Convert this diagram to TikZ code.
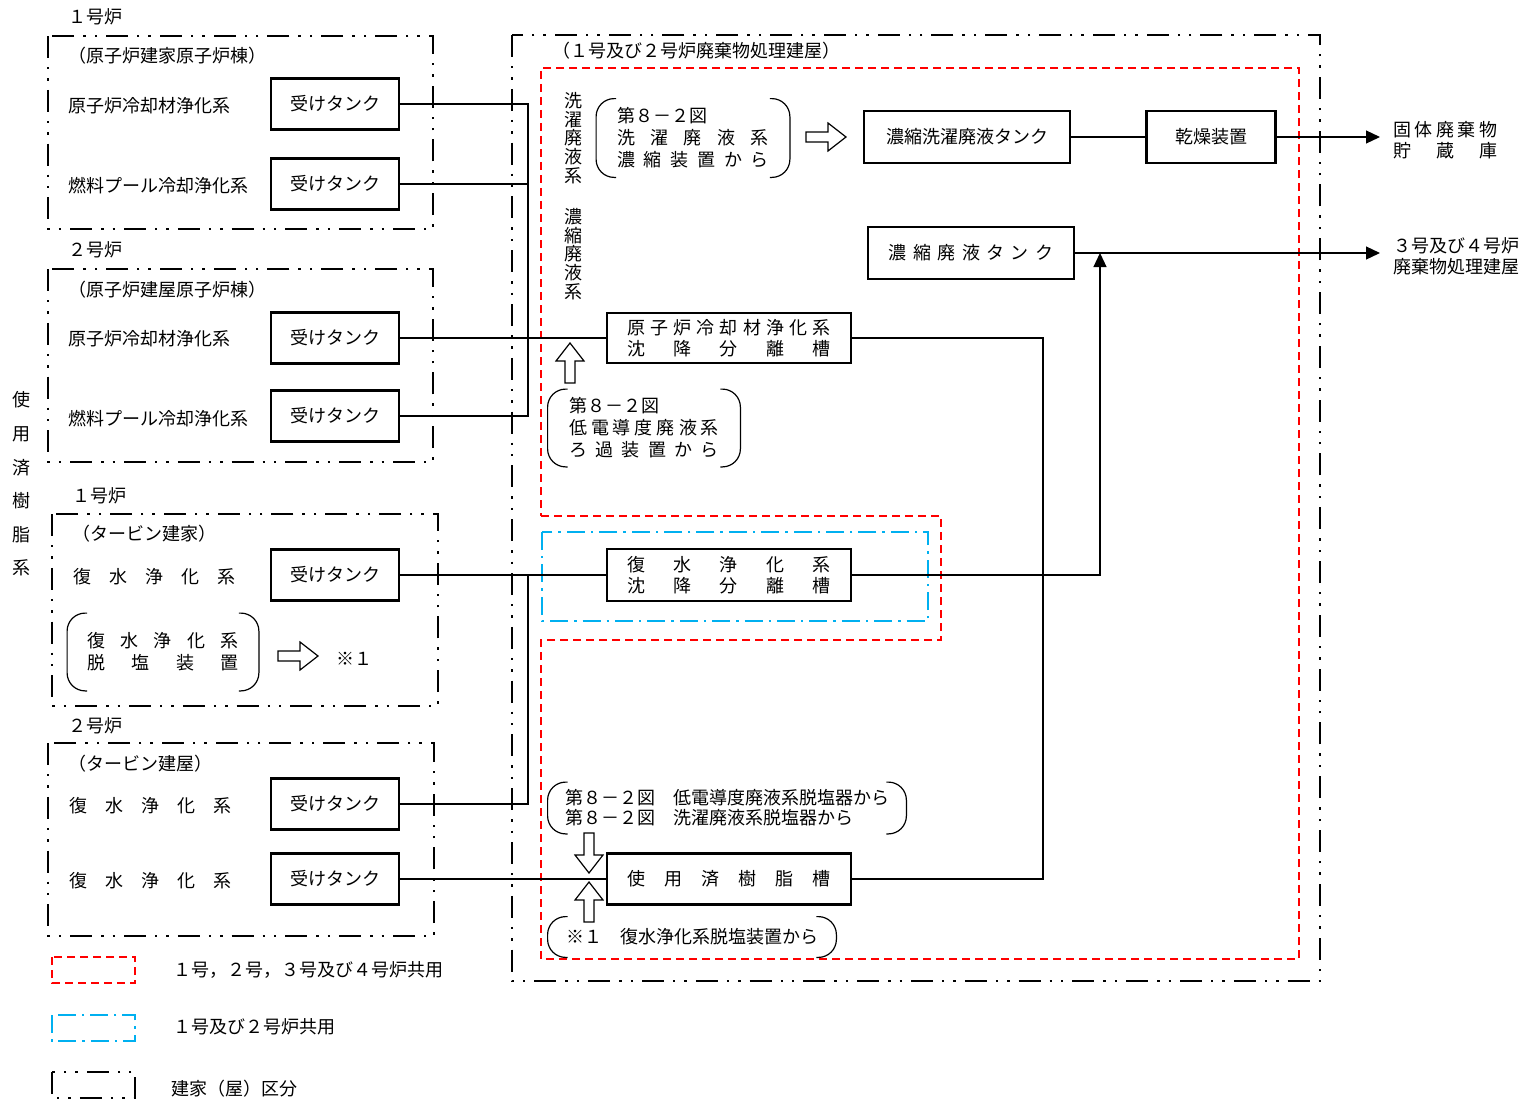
\documentclass[tikz,border=0pt]{standalone}
\usepackage{fontspec}
\setmainfont{Noto Sans CJK JP}
\definecolor{shred}{RGB}{255,0,0}
\definecolor{shblue}{RGB}{0,176,240}
\usetikzlibrary{arrows.meta,positioning}
\newcommand{\spr}[2]{\makebox[#1][s]{#2}}
\newcommand{\blockarrow}[2]{\draw[line width=0.6pt,shift={#1},rotate=#2] (0,0) -- (-18,14) -- (-18,5) -- (-40,5) -- (-40,-5) -- (-18,-5) -- (-18,-14) -- cycle;}
\newcommand{\bracketpair}[1]{%
  \draw[line width=0.6pt,rounded corners=9pt] ([xshift=10pt]#1.north west) -- (#1.north west) -- (#1.south west) -- ([xshift=10pt]#1.south west);
  \draw[line width=0.6pt,rounded corners=9pt] ([xshift=-10pt]#1.north east) -- (#1.north east) -- (#1.south east) -- ([xshift=-10pt]#1.south east);}

\begin{document}
\begin{tikzpicture}[x=0.5pt,y=-0.5pt,font=\fontsize{9}{10.5}\selectfont,
  bldg/.style={line width=1.1pt,dash pattern=on 11pt off 4.5pt on 1.2pt off 4.5pt on 1.2pt off 4.5pt},
  allshared/.style={shred,line width=0.9pt,dash pattern=on 4pt off 2.5pt},
  pairshared/.style={shblue,line width=0.9pt,dash pattern=on 9pt off 3pt on 1.2pt off 3pt},
  tank/.style={draw,line width=1.2pt,minimum width=64pt,minimum height=25.5pt,inner sep=0pt},
  vessel/.style={draw,line width=1.2pt,minimum width=122pt,minimum height=25pt,inner sep=0pt,align=center},
  lbl/.style={anchor=west,inner sep=0pt},
  vtext/.style={align=center,inner sep=0pt},
  remark/.style={inner sep=0pt,align=left,font=\fontsize{9}{11}\selectfont},
  pipe/.style={line width=0.6pt},
  feed/.style={line width=0.6pt,-{Triangle[length=7pt,width=6.5pt]}}]
\useasboundingbox (0,0) rectangle (1528,1104);

\node[lbl] (u1rb) at (68,17) {１号炉};
\draw[bldg] (48,36) rectangle (433,229);
\node[lbl] (rb1) at (68,56) {（原子炉建家原子炉棟）};
\node[lbl] (cu1) at (68,106) {原子炉冷却材浄化系};
\node[tank] (r1cu) at (335,104) {受けタンク};
\node[lbl] (fp1) at (68,186) {燃料プール冷却浄化系};
\node[tank] (r1fp) at (335,184) {受けタンク};

\node[lbl] (u2rb) at (68,250) {２号炉};
\draw[bldg] (48,269) rectangle (433,462);
\node[lbl] (rb2) at (68,290) {（原子炉建屋原子炉棟）};
\node[lbl] (cu2) at (68,339) {原子炉冷却材浄化系};
\node[tank] (r2cu) at (335,338) {受けタンク};
\node[lbl] (fp2) at (68,419) {燃料プール冷却浄化系};
\node[tank] (r2fp) at (335,416) {受けタンク};

\node[vtext,font=\fontsize{9}{16.8}\selectfont] (resinsys) at (21,484) {使\\用\\済\\樹\\脂\\系};

\node[lbl] (u1tb) at (72,496) {１号炉};
\draw[bldg] (52,514) rectangle (438,706);
\node[lbl] (tb1) at (72,534) {（タービン建家）};
\node[lbl] (cd1) at (73,577) {復　水　浄　化　系};
\node[tank] (t1cd) at (335,575) {受けタンク};
\node[remark,minimum width=95.5pt,minimum height=38.5pt] (demin1) at (163,652) {\spr{76pt}{復 水 浄 化 系}\\\spr{76pt}{脱 塩 装 置}};
\bracketpair{demin1}
\blockarrow{(318,656)}{0}
\node[lbl] (mark1) at (336,659) {※１};

\node[lbl] (u2tb) at (68,726) {２号炉};
\draw[bldg] (48,743) rectangle (434,936);
\node[lbl] (tb2) at (68,764) {（タービン建屋）};
\node[lbl] (cd2a) at (69,806) {復　水　浄　化　系};
\node[tank] (t2cda) at (335,804) {受けタンク};
\node[lbl] (cd2b) at (69,881) {復　水　浄　化　系};
\node[tank] (t2cdb) at (335,879) {受けタンク};

\draw[bldg] (512,35) rectangle (1320,981);
\draw[allshared] (541,516) -- (941,516) -- (941,640) -- (541,640) -- (541,959) -- (1299,959) -- (1299,68) -- (541,68) -- cycle;
\draw[pairshared] (542,532) rectangle (928,621);
\node[lbl] (wbldg) at (552,51) {（１号及び２号炉廃棄物処理建屋）};

\node[vtext,font=\fontsize{9}{9.3}\selectfont] (washsys) at (573,138) {洗\\濯\\廃\\液\\系};
\node[vtext,font=\fontsize{9}{9.3}\selectfont] (concsys) at (573,254) {濃\\縮\\廃\\液\\系};

\node[remark,minimum width=96.5pt,minimum height=39pt] (fromWash) at (693,138) {第８－２図\\\spr{76pt}{洗 濯 廃 液 系}\\\spr{76pt}{濃 縮 装 置 か ら}};
\bracketpair{fromWash}
\blockarrow{(846,137)}{0}
\node[vessel,minimum width=103pt,minimum height=26pt] (washTank) at (967,137) {濃縮洗濯廃液タンク};
\node[vessel,minimum width=64.5pt,minimum height=26pt] (dryer) at (1211,137) {乾燥装置};
\coordinate (solidEnd) at (1380,137);
\node[lbl,align=left] (solidStore) at (1393,140) {\spr{52pt}{固 体 廃 棄 物}\\\spr{52pt}{貯 蔵 庫}};

\node[vessel,minimum width=103pt,minimum height=26pt] (concTank) at (971,253) {\spr{82.5pt}{濃 縮 廃 液 タ ン ク}};
\coordinate (wasteEnd) at (1380,253);
\node[lbl,align=left] (unit34) at (1393,256) {３号及び４号炉\\廃棄物処理建屋};

\node[vessel] (cuSep) at (729,338) {\spr{101.5pt}{原 子 炉 冷 却 材 浄 化 系}\\\spr{101.5pt}{沈 降 分 離 槽}};
\blockarrow{(570,343)}{90}
\node[remark,minimum width=96pt,minimum height=38.5pt] (fromFilter) at (644,428) {第８－２図\\\spr{75pt}{低 電 導 度 廃 液 系}\\\spr{75pt}{ろ 過 装 置 か ら}};
\bracketpair{fromFilter}

\node[vessel,minimum height=26pt] (cdSep) at (729,575) {\spr{101.5pt}{復 水 浄 化 系}\\\spr{101.5pt}{沈 降 分 離 槽}};

\node[remark,minimum width=179pt,minimum height=25.5pt,font=\fontsize{9}{10}\selectfont] (fromDemin) at (727,808) {第８－２図　低電導度廃液系脱塩器から\\第８－２図　洗濯廃液系脱塩器から};
\bracketpair{fromDemin}
\blockarrow{(589,873)}{-90}
\node[vessel,minimum height=25.5pt] (resinTank) at (729,879) {\spr{101.5pt}{使 用 済 樹 脂 槽}};
\blockarrow{(589,882)}{90}
\node[remark,minimum width=144pt,minimum height=20pt] (fromCond) at (692,937) {※１　復水浄化系脱塩装置から};
\bracketpair{fromCond}

\coordinate (busL) at (528,0);
\coordinate (busM) at (1043,0);
\coordinate (busN) at (1100,0);
\draw[pipe] (r1cu.east) -| (busL |- r2fp.east) -- (r2fp.east);
\draw[pipe] (r1fp.east) -- (r1fp.east -| busL);
\draw[pipe] (r2cu.east) -- (cuSep.west);
\draw[pipe] (t1cd.east) -- (cdSep.west);
\draw[pipe] (t2cda.east) -| (busL |- t1cd.east);
\draw[pipe] (t2cdb.east) -- (resinTank.west);
\draw[pipe] (cuSep.east) -| (busM |- resinTank.east) -- (resinTank.east);
\draw[feed] (cdSep.east) -| (busN |- concTank.east);
\draw[pipe] (washTank) -- (dryer);
\draw[feed] (dryer.east) -- (solidEnd);
\draw[feed] (concTank.east) -- (wasteEnd);

\draw[allshared] (52,957) rectangle (135,983);
\node[lbl] (keyAll) at (173,970) {１号，２号，３号及び４号炉共用};
\draw[pairshared] (52,1015) rectangle (135,1041);
\node[lbl] (keyPair) at (173,1027) {１号及び２号炉共用};
\draw[bldg] (52,1072) rectangle (135,1098);
\node[lbl] (keyBldg) at (171,1089) {建家（屋）区分};
\end{tikzpicture}
\end{document}
